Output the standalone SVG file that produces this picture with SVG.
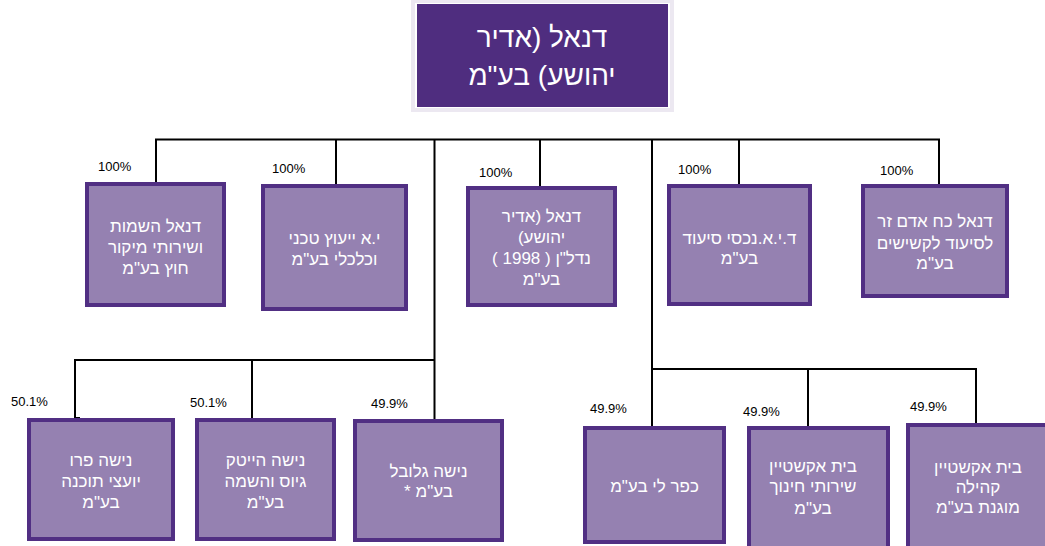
<svg xmlns="http://www.w3.org/2000/svg" width="1045" height="546" viewBox="0 0 1045 546">
<style>
.box{fill:#9581B1;stroke:#512F83;stroke-width:4}
.t{font-family:"Liberation Sans",Arial,"Noto Sans",sans-serif;font-size:17px;fill:#ffffff;text-anchor:middle;direction:rtl}
.tt{font-family:"Liberation Sans",Arial,"Noto Sans",sans-serif;font-size:28px;fill:#ffffff;text-anchor:middle;direction:rtl}
.p{font-family:"Liberation Sans",Arial,sans-serif;font-size:13px;fill:#000000}
.c{stroke:#000000;stroke-width:2;fill:none}
</style>
<rect width="1045" height="546" fill="#ffffff"/>
<g id="connectors">
<polyline class="c" points="156,182 156,139.5 939,139.5 939,185"/>
<line class="c" x1="336" y1="139.5" x2="336" y2="184"/>
<line class="c" x1="540" y1="139.5" x2="540" y2="186"/>
<line class="c" x1="739" y1="139.5" x2="739" y2="184"/>
<line class="c" x1="434.5" y1="139.5" x2="434.5" y2="419"/>
<polyline class="c" points="80,418 75,418 75,360 434.5,360"/>
<line class="c" x1="252" y1="360" x2="252" y2="418"/>
<line class="c" x1="652" y1="139.5" x2="652" y2="426"/>
<polyline class="c" points="652,369 976,369 976,423"/>
<line class="c" x1="808" y1="369" x2="808" y2="426"/>
</g>
<g id="top">
<rect x="413" y="1" width="259" height="109" fill="none" stroke="#ECE8F1" stroke-width="4"/>
<rect x="417" y="4" width="251" height="103" fill="#4F2D7F"/>
<text class="tt" x="542" y="47">דנאל (אדיר</text>
<text class="tt" x="542" y="85">יהושע) בע"מ</text>
</g>
<g id="n1">
<rect class="box" x="87" y="184" width="137" height="121"/>
<text class="p" x="98" y="171">100%</text>
<text class="t" x="155.5" y="232">דנאל השמות</text>
<text class="t" x="155.5" y="253">ושירותי מיקור</text>
<text class="t" x="155.5" y="274">חוץ בע"מ</text>
</g>
<g id="n2">
<rect class="box" x="263" y="186" width="143" height="123"/>
<text class="p" x="272" y="173">100%</text>
<text class="t" x="334.5" y="244">י.א ייעוץ טכני</text>
<text class="t" x="334.5" y="265">וכלכלי בע"מ</text>
</g>
<g id="n3">
<rect class="box" x="468" y="188" width="147" height="117"/>
<text class="p" x="479" y="177">100%</text>
<text class="t" x="541.5" y="222">דנאל (אדיר</text>
<text class="t" x="541.5" y="243">יהושע)</text>
<text class="t" x="541.5" y="264">נדל"ן ( 1998 )</text>
<text class="t" x="541.5" y="285">בע"מ</text>
</g>
<g id="n4">
<rect class="box" x="669" y="186" width="141" height="118"/>
<text class="p" x="678" y="174">100%</text>
<text class="t" x="739.5" y="244">ד.י.א.נכסי סיעוד</text>
<text class="t" x="739.5" y="264">בע"מ</text>
</g>
<g id="n5">
<rect class="box" x="863" y="186" width="144" height="110"/>
<text class="p" x="880" y="175">100%</text>
<text class="t" x="935" y="227">דנאל כח אדם זר</text>
<text class="t" x="935" y="249">לסיעוד לקשישים</text>
<text class="t" x="935" y="269">בע"מ</text>
</g>
<g id="n6">
<rect class="box" x="29" y="420" width="144" height="119"/>
<text class="p" x="11" y="406">50.1%</text>
<text class="t" x="101" y="466">נישה פרו</text>
<text class="t" x="101" y="487">יועצי תוכנה</text>
<text class="t" x="101" y="508">בע"מ</text>
</g>
<g id="n7">
<rect class="box" x="197" y="420" width="137" height="119"/>
<text class="p" x="190" y="407">50.1%</text>
<text class="t" x="265.5" y="466">נישה הייטק</text>
<text class="t" x="265.5" y="487">גיוס והשמה</text>
<text class="t" x="265.5" y="508">בע"מ</text>
</g>
<g id="n8">
<rect class="box" x="355" y="421" width="147" height="119"/>
<text class="p" x="371" y="408">49.9%</text>
<text class="t" x="428.5" y="477">נישה גלובל</text>
<text class="t" x="428.5" y="497">בע"מ *</text>
</g>
<g id="n9">
<rect class="box" x="585" y="428" width="139" height="114"/>
<text class="p" x="590" y="413">49.9%</text>
<text class="t" x="654.5" y="492">כפר לי בע"מ</text>
</g>
<g id="n10">
<rect class="box" x="749" y="428" width="139" height="122"/>
<text class="p" x="743" y="416">49.9%</text>
<text class="t" x="813" y="472">בית אקשטיין</text>
<text class="t" x="813" y="492">שירותי חינוך</text>
<text class="t" x="813" y="514">בע"מ</text>
</g>
<g id="n11">
<rect class="box" x="908" y="425" width="140" height="125"/>
<text class="p" x="910" y="411">49.9%</text>
<text class="t" x="978" y="473">בית אקשטיין</text>
<text class="t" x="978" y="493">קהילה</text>
<text class="t" x="978" y="513">מוגנת בע"מ</text>
</g>
</svg>
